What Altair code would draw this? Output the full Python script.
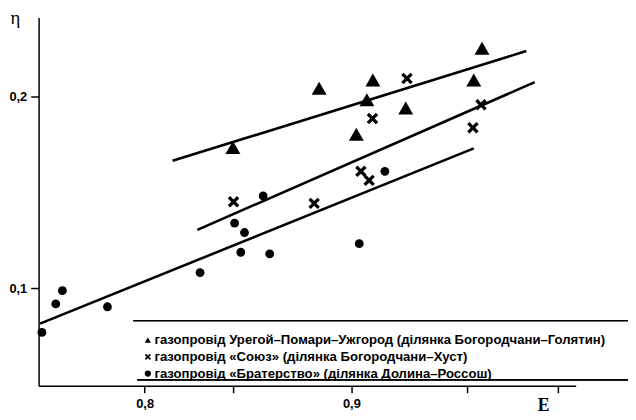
import altair as alt
import pandas as pd

# ---- data ----
series_names = [
    "газопровід Урегой–Помари–Ужгород (ділянка Богородчани–Голятин)",
    "газопровід «Союз» (ділянка Богородчани–Хуст)",
    "газопровід «Братерство» (ділянка Долина–Россош)",
]

tri_x = [0.8427, 0.8844, 0.9104, 0.9075, 0.9263, 0.9024, 0.9632, 0.9592]
tri_y = [0.1734, 0.2043, 0.2086, 0.1983, 0.1940, 0.1803, 0.2252, 0.2086]

cross_x = [0.8430, 0.9269, 0.9102, 0.9627, 0.9588, 0.9046, 0.9086, 0.8820]
cross_y = [0.1451, 0.2094, 0.1885, 0.1957, 0.1837, 0.1610, 0.1563, 0.1443]

dot_x = [0.7503, 0.7570, 0.7602, 0.7820, 0.8268, 0.8573, 0.8435, 0.8483,
         0.8465, 0.8605, 0.9162, 0.9038]
dot_y = [0.0770, 0.0919, 0.0988, 0.0904, 0.1082, 0.1482, 0.1340, 0.1291,
         0.1188, 0.1180, 0.1610, 0.1233]

# fitted lines (start / end points)
fit_x0 = [0.8135, 0.8255, 0.7494]
fit_y0 = [0.1665, 0.1305, 0.0816]
fit_x1 = [0.9846, 0.9887, 0.9592]
fit_y1 = [0.2237, 0.2075, 0.1730]

x_ticks = [0.8, 0.843, 0.9, 0.956, 1.0]
y_ticks = [0.1, 0.2]

# ---- tables ----
rows = []
for xs, ys, name in [(tri_x, tri_y, series_names[0]),
                     (cross_x, cross_y, series_names[1]),
                     (dot_x, dot_y, series_names[2])]:
    for xv, yv in zip(xs, ys):
        rows.append({"E": xv, "eta": yv, "series": name})
pts = pd.DataFrame(rows)

fits = pd.DataFrame({"x0": fit_x0, "y0": fit_y0, "x1": fit_x1, "y1": fit_y1})

X_PATH = ("M-1,-0.6L-0.6,-1L0,-0.4L0.6,-1L1,-0.6L0.4,0L1,0.6L0.6,1"
          "L0,0.4L-0.6,1L-1,0.6L-0.4,0Z")

x_scale = alt.Scale(domain=[0.7487, 1.0085], nice=False, zero=False)
y_scale = alt.Scale(domain=[0.0492, 0.2412], nice=False, zero=False)

x_axis = alt.Axis(
    values=x_ticks,
    labelExpr="datum.value == 0.8 ? '0,8' : (datum.value == 0.9 ? '0,9' : '')",
    grid=False, tickSize=7, tickWidth=1.5, tickColor="black",
    domainColor="black", domainWidth=1.5,
    labelFont="Liberation Sans", labelFontWeight="bold", labelFontSize=13,
    labelColor="black", labelPadding=5,
    title="E", titleFont="Liberation Serif", titleFontSize=18,
    titleFontWeight="bold", titleColor="black",
    titleX=511, titleY=20, titleAlign="center", titleBaseline="middle",
)
y_axis = alt.Axis(
    values=y_ticks,
    labelExpr="datum.value == 0.1 ? '0,1' : '0,2'",
    grid=False, tickSize=8, tickWidth=1.5, tickColor="black",
    domainColor="black", domainWidth=1.5,
    labelFont="Liberation Sans", labelFontWeight="bold", labelFontSize=13,
    labelColor="black", labelPadding=4,
    title="η", titleFont="Liberation Serif", titleFontSize=19,
    titleFontWeight="normal", titleColor="black", titleAngle=0,
    titleX=-24, titleY=0, titleAlign="center", titleBaseline="middle",
)

shape_enc = alt.Shape(
    "series:N",
    scale=alt.Scale(domain=series_names, range=["triangle-up", X_PATH, "circle"]),
    legend=alt.Legend(
        title=None, orient="none", legendX=104, legendY=320,
        labelFont="Liberation Sans", labelFontWeight="bold", labelFontSize=13.3,
        labelColor="black", labelLimit=0, symbolSize=40, symbolFillColor="black",
        symbolStrokeWidth=0, rowPadding=3, labelOffset=0, padding=0,
    ),
)

base = alt.Chart(pts).encode(
    x=alt.X("E:Q", scale=x_scale, axis=x_axis),
    y=alt.Y("eta:Q", scale=y_scale, axis=y_axis),
    shape=shape_enc,
)

sizes = [230, 135, 80]
point_layers = [
    base.transform_filter(alt.datum.series == name)
    .mark_point(filled=True, color="black", opacity=1, size=sz)
    for name, sz in zip(series_names, sizes)
]

lines = alt.Chart(fits).mark_rule(color="black", strokeWidth=2.6).encode(
    x=alt.X("x0:Q", scale=x_scale),
    y=alt.Y("y0:Q", scale=y_scale),
    x2="x1:Q",
    y2="y1:Q",
)

box_top = alt.Chart(fits).mark_rule(color="black", strokeWidth=1.5).encode(
    x=alt.value(96), x2=alt.value(597), y=alt.value(307)
)
box_bottom = alt.Chart(fits).mark_rule(color="black", strokeWidth=1.5).encode(
    x=alt.value(100), x2=alt.value(597), y=alt.value(367)
)

chart = alt.layer(lines, box_top, box_bottom, *point_layers).properties(
    width=544, height=373,
    autosize=alt.AutoSizeParams(type="none"),
    padding={"left": 31, "top": 7, "right": 53, "bottom": 31},
    background="white",
).configure_view(stroke=None)

chart.save("out.html", embed_options={"renderer": "svg", "actions": False})
